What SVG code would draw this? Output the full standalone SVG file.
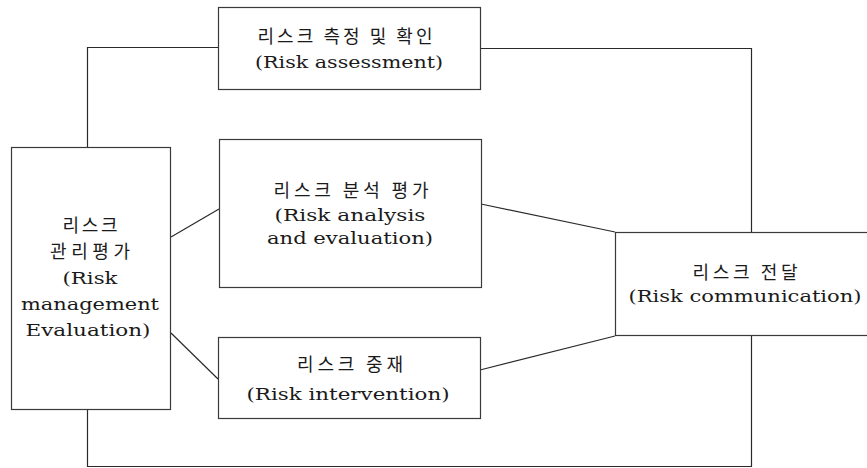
<svg xmlns="http://www.w3.org/2000/svg" width="867" height="468" viewBox="0 0 867 468">
<style>
  .box { fill: #ffffff; stroke: #3a3a3a; stroke-width: 1.2; }
  .conn { fill: none; stroke: #2a2a2a; stroke-width: 1.2; }
  .lat { font-family: "DejaVu Serif", "Liberation Serif", serif; font-size: 17px; fill: #1a1a1a; text-anchor: middle; }
  .ko { font-family: "Noto Sans CJK KR", "Noto Sans", sans-serif; font-size: 18px; fill: #1a1a1a; text-anchor: middle; }
</style>
<rect width="867" height="468" fill="#ffffff"/>
<g id="connectors">
  <polyline class="conn" points="87.5,147 87.5,47.5 218,47.5"/>
  <polyline class="conn" points="480,48.5 751.5,48.5 751.5,232"/>
  <polyline class="conn" points="87.5,409 87.5,466.5 751.5,466.5 751.5,335"/>
  <line class="conn" x1="171" y1="237" x2="219" y2="209"/>
  <line class="conn" x1="171" y1="333" x2="218" y2="379"/>
  <line class="conn" x1="481" y1="204" x2="615" y2="232"/>
  <line class="conn" x1="480" y1="370" x2="615" y2="336"/>
</g>
<g id="assessment">
  <rect class="box" x="218.5" y="7.5" width="262" height="82"/>
  <text class="ko" x="345" y="43" textLength="175" lengthAdjust="spacing">리스크 측정 및 확인</text>
  <text class="lat" x="349" y="68" textLength="188" lengthAdjust="spacingAndGlyphs">(Risk assessment)</text>
</g>
<g id="management">
  <rect class="box" x="11.5" y="147.5" width="159" height="262"/>
  <text class="ko" x="90" y="232" textLength="55" lengthAdjust="spacing">리스크</text>
  <text class="ko" x="90" y="258" textLength="80" lengthAdjust="spacing">관리평가</text>
  <text class="lat" x="90" y="284" textLength="55" lengthAdjust="spacingAndGlyphs">(Risk</text>
  <text class="lat" x="90" y="310" textLength="138" lengthAdjust="spacingAndGlyphs">management</text>
  <text class="lat" x="88" y="336" textLength="125" lengthAdjust="spacingAndGlyphs">Evaluation)</text>
</g>
<g id="analysis">
  <rect class="box" x="219.5" y="139.5" width="262" height="148"/>
  <text class="ko" x="351" y="197" textLength="155" lengthAdjust="spacing">리스크 분석 평가</text>
  <text class="lat" x="350" y="221" textLength="151" lengthAdjust="spacingAndGlyphs">(Risk analysis</text>
  <text class="lat" x="350" y="244" textLength="166" lengthAdjust="spacingAndGlyphs">and evaluation)</text>
</g>
<g id="intervention">
  <rect class="box" x="218.5" y="337.5" width="262" height="81"/>
  <text class="ko" x="350" y="371" textLength="106" lengthAdjust="spacing">리스크 중재</text>
  <text class="lat" x="348" y="400" textLength="203" lengthAdjust="spacingAndGlyphs">(Risk intervention)</text>
</g>
<g id="communication">
  <rect class="box" x="615.5" y="232.5" width="256" height="103"/>
  <text class="ko" x="745" y="279" textLength="105" lengthAdjust="spacing">리스크 전달</text>
  <text class="lat" x="745" y="302" textLength="233" lengthAdjust="spacingAndGlyphs">(Risk communication)</text>
</g>
</svg>
